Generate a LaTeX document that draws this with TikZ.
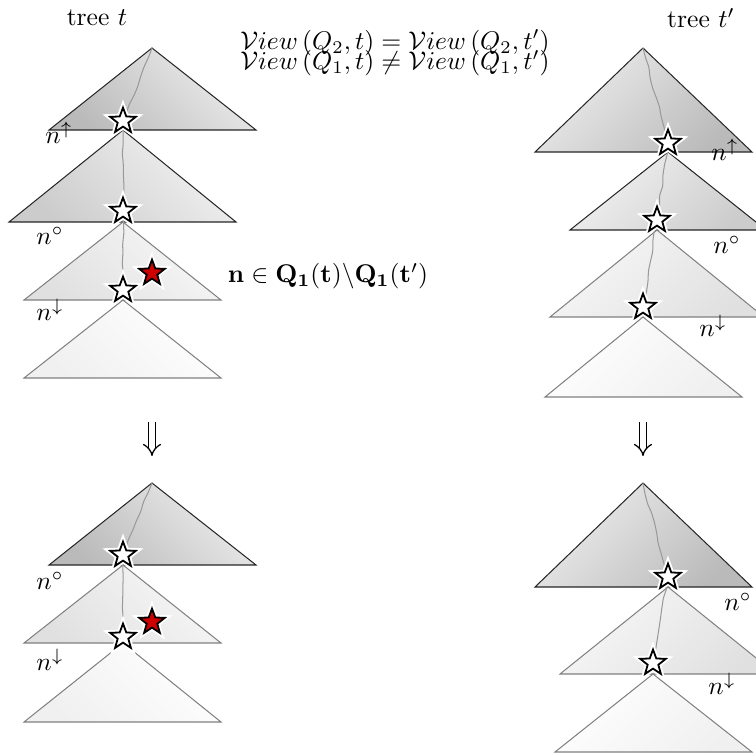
\documentclass[tikz,border=0pt]{standalone}
\usetikzlibrary{arrows.meta, shapes.geometric, decorations.pathmorphing}

\begin{document}
\begin{tikzpicture}[x=0.01373cm, y=-0.01373cm,
  darkL/.style={draw=black!85, thin, bottom color=black!27, top color=black!7, shading angle=-45},
  darkR/.style={draw=black!85, thin, bottom color=black!27, top color=black!7, shading angle=45},
  midL/.style={draw=black!85, thin, bottom color=black!20, top color=black!5, shading angle=-45},
  midR/.style={draw=black!85, thin, bottom color=black!20, top color=black!5, shading angle=45},
  lightL/.style={draw=black!50, thin, bottom color=black!12, top color=black!3, shading angle=-45},
  lightR/.style={draw=black!50, thin, bottom color=black!12, top color=black!3, shading angle=45},
  paleL/.style={draw=black!50, thin, bottom color=black!6, top color=white, shading angle=-45},
  paleR/.style={draw=black!50, thin, bottom color=black!6, top color=white, shading angle=45},
  trail/.style={draw=black!40, thin, decorate,
                decoration={random steps, segment length=4pt, amplitude=0.4pt}, rounded corners=0.6pt},
  wstar/.style={star, star points=5, star point ratio=2.4, minimum size=10.5pt, inner sep=0pt,
                draw=black, line width=0.7pt, fill=white,
                preaction={draw=white, line width=2.2pt}},
  rstar/.style={wstar, fill=red!80!black},
  dbl/.style={double, double distance=2pt, line width=0.5pt, -{Implies}},
]
\useasboundingbox (0,0) rectangle (756,755);
\clip (0,0) rectangle (756,755);
\pgfmathsetseed{7}

% titles
\node (treeL) at (97,18) {tree $t$};
\node (treeR) at (701,18) {tree $t'$};
\node[align=center, inner sep=0pt] (views) at (395,53) {%
  $\mathcal{V}iew\,(Q_2,t) = \mathcal{V}iew\,(Q_2,t')$\\[-4pt]
  $\mathcal{V}iew\,(Q_1,t) \neq \mathcal{V}iew\,(Q_1,t')$};

% tree t, before
\draw[darkL] (49,130) -- (152,48) -- (256,130) -- cycle;
\draw[midL] (9,222) -- (123,130) -- (236,222) -- cycle;
\draw[lightL] (24,300) -- (123,222) -- (221,300) -- cycle;
\draw[paleL] (24,378) -- (123,300) -- (221,378) -- cycle;
\coordinate (a0) at (152,48);
\coordinate (a1) at (123,121);
\coordinate (a2) at (123,211);
\coordinate (a3) at (123,290);
\draw[trail] (a0) -- (a1) -- (a2) -- (a3);
\node[wstar] (sa1) at (a1) {};
\node[wstar] (sa2) at (a2) {};
\node[wstar] (sa3) at (a3) {};
\node[rstar] (ra) at (152,273) {};
\node (upA) at (59,133) {$n^{\uparrow}$};
\node (midA) at (50,236) {$n^{\circ}$};
\node (downA) at (50,310) {$n^{\downarrow}$};
\node (nsel) at (328,276) {$\mathbf{n}\in\mathbf{Q_1(t)\backslash Q_1(t')}$};

% tree t', before
\draw[darkR] (535,152) -- (643,48) -- (752,152) -- cycle;
\draw[midR] (570,230) -- (668,152) -- (766,230) -- cycle;
\draw[lightR] (550,317) -- (657,230) -- (764,317) -- cycle;
\draw[paleR] (545,397) -- (643,317) -- (742,397) -- cycle;
\coordinate (b0) at (643,48);
\coordinate (b1) at (668,143);
\coordinate (b2) at (657,220);
\coordinate (b3) at (643,307);
\draw[trail] (b0) -- (b1) -- (b2) -- (b3);
\node[wstar] (sb1) at (b1) {};
\node[wstar] (sb2) at (b2) {};
\node[wstar] (sb3) at (b3) {};
\node (upB) at (725,150) {$n^{\uparrow}$};
\node (midB) at (727,245) {$n^{\circ}$};
\node (downB) at (713,326) {$n^{\downarrow}$};

% arrows
\coordinate (dA1) at (152,422);
\coordinate (dA2) at (152,456);
\coordinate (dB1) at (643,422);
\coordinate (dB2) at (643,456);
\draw[dbl] (dA1) -- (dA2);
\draw[dbl] (dB1) -- (dB2);

% tree t, after
\draw[darkL] (49,565) -- (152,483) -- (256,565) -- cycle;
\draw[lightL] (24,643) -- (123,565) -- (221,643) -- cycle;
\draw[paleL] (24,722) -- (123,643) -- (221,722) -- cycle;
\coordinate (c0) at (152,483);
\coordinate (c1) at (123,555);
\coordinate (c2) at (123,637);
\draw[trail] (c0) -- (c1) -- (c2);
\node[wstar] (sc1) at (c1) {};
\node[wstar] (sc2) at (c2) {};
\node[rstar] (rc) at (152,622) {};
\node (midC) at (50,581) {$n^{\circ}$};
\node (downC) at (50,660) {$n^{\downarrow}$};

% tree t', after
\draw[darkR] (535,587) -- (643,483) -- (752,587) -- cycle;
\draw[lightR] (560,674) -- (668,587) -- (776,674) -- cycle;
\draw[paleR] (555,752) -- (653,674) -- (752,752) -- cycle;
\coordinate (d0) at (643,483);
\coordinate (d1) at (668,577);
\coordinate (d2) at (653,663);
\draw[trail] (d0) -- (d1) -- (d2);
\node[wstar] (sd1) at (d1) {};
\node[wstar] (sd2) at (d2) {};
\node (midD) at (738,602) {$n^{\circ}$};
\node (downD) at (722,684) {$n^{\downarrow}$};
\end{tikzpicture}
\end{document}
